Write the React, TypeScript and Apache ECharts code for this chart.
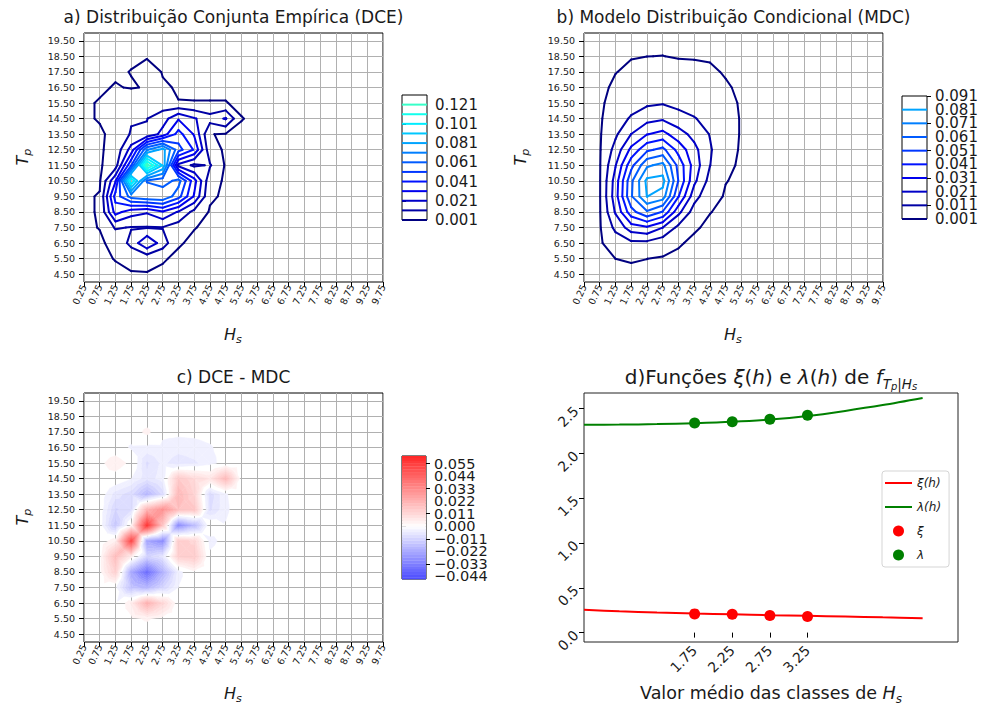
import React, { useEffect, useRef } from "react";
import * as echarts from "echarts";

// ---------------- DATA ----------------
const HS = [0.25, 0.75, 1.25, 1.75, 2.25, 2.75, 3.25, 3.75, 4.25, 4.75, 5.25, 5.75, 6.25, 6.75, 7.25, 7.75, 8.25, 8.75, 9.25, 9.75];
const TP = [4.5, 5.5, 6.5, 7.5, 8.5, 9.5, 10.5, 11.5, 12.5, 13.5, 14.5, 15.5, 16.5, 17.5, 18.5, 19.5];

// Empirical joint distribution (rows: Tp 4.5..19.5, cols: Hs 0.25..5.75; beyond = 0)
const DCE: number[][] = [
  [0, 0, 0, 0.0005, 0.0005, 0, 0, 0, 0, 0, 0, 0],
  [0, 0, 0.0012, 0.003, 0.004, 0.0015, 0, 0, 0, 0, 0, 0],
  [0, 0, 0.003, 0.014, 0.03, 0.016, 0.0015, 0, 0, 0, 0, 0],
  [0, 0.0012, 0.012, 0.0105, 0.0105, 0.0105, 0.006, 0.0012, 0, 0, 0, 0],
  [0, 0.0015, 0.035, 0.025, 0.022, 0.03, 0.02, 0.008, 0.0003, 0, 0, 0],
  [0, 0.0015, 0.045, 0.065, 0.07, 0.07, 0.055, 0.03, 0.002, 0, 0, 0],
  [0, 0, 0.03, 0.11, 0.06, 0.055, 0.065, 0.035, 0.004, 0, 0, 0],
  [0, 0, 0.006, 0.05, 0.125, 0.09, 0.018, 0.009, 0.012, 0, 0, 0],
  [0, 0, 0.004, 0.025, 0.07, 0.085, 0.055, 0.04, 0.004, 0, 0, 0],
  [0, 0, 0.003, 0.012, 0.012, 0.025, 0.045, 0.03, 0.0012, 0.0005, 0, 0],
  [0, 0.0015, 0.006, 0.01, 0.0108, 0.016, 0.03, 0.022, 0.015, 0.022, 0.0012, 0],
  [0, 0.0015, 0.008, 0.008, 0.0012, 0.006, 0.0012, 0.0012, 0.0012, 0.0012, 0, 0],
  [0, 0, 0.0015, 0.0005, 0.0015, 0.002, 0.0003, 0, 0, 0, 0, 0],
  [0, 0, 0, 0.0012, 0.006, 0.0005, 0, 0, 0, 0, 0, 0],
  [0, 0, 0, 0, 0, 0, 0, 0, 0, 0, 0, 0],
  [0, 0, 0, 0, 0, 0, 0, 0, 0, 0, 0, 0],
];

// Conditional model distribution (same layout)
const MDC: number[][] = [
  [0, 0, 0.00007, 0.00006, 0.00003, 0.00001, 0, 0, 0, 0, 0, 0],
  [0, 0.00002, 0.00101, 0.00136, 0.00103, 0.00042, 0.00009, 0.00001, 0, 0, 0, 0],
  [0, 0.00006, 0.00518, 0.00869, 0.00834, 0.00476, 0.00147, 0.00016, 0.00001, 0, 0, 0],
  [0, 0.00013, 0.01342, 0.02613, 0.0295, 0.0211, 0.0084, 0.00153, 0.00017, 0.00001, 0, 0],
  [0, 0.0002, 0.0221, 0.0472, 0.0597, 0.0502, 0.0239, 0.00637, 0.00113, 0.00008, 0.00001, 0],
  [0, 0.00025, 0.0265, 0.0599, 0.0812, 0.0764, 0.0416, 0.015, 0.00363, 0.0004, 0.00003, 0],
  [0, 0.00026, 0.0253, 0.0588, 0.0833, 0.0846, 0.0507, 0.0234, 0.00763, 0.00118, 0.00008, 0.00001],
  [0, 0.00024, 0.0204, 0.0477, 0.0692, 0.074, 0.0478, 0.0267, 0.01124, 0.00225, 0.00022, 0.00002],
  [0, 0.0002, 0.01445, 0.0335, 0.0489, 0.0539, 0.03755, 0.024, 0.01217, 0.0031, 0.00044, 0.00005],
  [0, 0.00015, 0.00931, 0.0211, 0.0306, 0.0342, 0.0252, 0.0179, 0.01055, 0.00328, 0.00063, 0.0001],
  [0, 0.0001, 0.00558, 0.01228, 0.0175, 0.0196, 0.015, 0.0116, 0.00771, 0.00283, 0.0007, 0.00013],
  [0, 0.00007, 0.00315, 0.00666, 0.00925, 0.01023, 0.00805, 0.00667, 0.00489, 0.00206, 0.00064, 0.00014],
  [0, 0.00004, 0.00171, 0.00346, 0.00465, 0.00506, 0.00403, 0.00353, 0.00279, 0.00132, 0.0005, 0.00012],
  [0, 0.00002, 0.00089, 0.00171, 0.00223, 0.00236, 0.00189, 0.00172, 0.00145, 0.00076, 0.00034, 0.00009],
  [0, 0.00001, 0.00045, 0.00082, 0.00098, 0.00103, 0.00084, 0.00079, 0.0007, 0.00039, 0.00018, 0.00006],
  [0, 0, 0.00023, 0.00039, 0.00046, 0.00046, 0.00036, 0.00035, 0.00032, 0.00019, 0.00009, 0.00003],
];

const LEVELS_A = [0.001, 0.011, 0.021, 0.031, 0.041, 0.051, 0.061, 0.071, 0.081, 0.091, 0.101, 0.111, 0.121];
const LEVELS_B = [0.001, 0.011, 0.021, 0.031, 0.041, 0.051, 0.061, 0.071, 0.081];
const CB_A_TICKS = [0.001, 0.021, 0.041, 0.061, 0.081, 0.101, 0.121];
const CB_B_TICKS = [0.001, 0.011, 0.021, 0.031, 0.041, 0.051, 0.061, 0.071, 0.081, 0.091];
const CB_C_TICKS = [-0.044, -0.033, -0.022, -0.011, 0, 0.011, 0.022, 0.033, 0.044, 0.055];

// Panel d
const HS_FIT = [0.28, 0.75, 1.25, 1.75, 2.25, 2.75, 3.25, 3.75, 4.25, 4.78];
const XI_FIT = [0.254, 0.238, 0.224, 0.213, 0.204, 0.195, 0.187, 0.179, 0.17, 0.161];
const LAMBDA_FIT = [2.32, 2.322, 2.328, 2.338, 2.353, 2.378, 2.418, 2.475, 2.54, 2.619];
const HS_CLASS = [1.75, 2.25, 2.75, 3.25];
const XI_PTS = [0.209, 0.206, 0.191, 0.18];
const LAMBDA_PTS = [2.34, 2.354, 2.381, 2.426];
const D_XTICKS = [1.75, 2.25, 2.75, 3.25];
const D_YTICKS = [0, 0.5, 1.0, 1.5, 2.0, 2.5];

// ---------------- helpers ----------------
const FONT = "DejaVu Sans, Liberation Sans, sans-serif";
const TXT = "#1a1a1a";

function getVal(tab: number[][], i: number, j: number): number {
  const row = tab[j];
  if (!row || i >= row.length) return 0;
  return row[i];
}

function jetColor(t: number): string {
  const c = (x: number) => Math.max(0, Math.min(1, x));
  const r = c(1.5 - Math.abs(4 * t - 3));
  const g = c(1.5 - Math.abs(4 * t - 2));
  const b = c(1.5 - Math.abs(4 * t - 1));
  return `rgb(${Math.round(r * 255)},${Math.round(g * 255)},${Math.round(b * 255)})`;
}
const levelColor = (L: number) => jetColor((L - 0.001) / 0.28);

function mix(a: number[], b: number[], s: number): string {
  return `rgb(${Math.round(a[0] + (b[0] - a[0]) * s)},${Math.round(a[1] + (b[1] - a[1]) * s)},${Math.round(a[2] + (b[2] - a[2]) * s)})`;
}
const C_MIN = -0.0463;
const C_MAX = 0.0616;
function diffColor(m: number): string {
  if (m >= 0) return mix([255, 255, 255], [255, 38, 38], Math.min(1, m / C_MAX));
  return mix([255, 255, 255], [75, 75, 255], Math.min(1, m / C_MIN));
}

type Seg = number[];
function contourSegments(tab: number[][], levels: number[]): Seg[] {
  const segs: Seg[] = [];
  for (let li = 0; li < levels.length; li++) {
    const L = levels[li];
    for (let j = 0; j < TP.length - 1; j++) {
      for (let i = 0; i < HS.length - 1; i++) {
        const va = getVal(tab, i, j), vb = getVal(tab, i + 1, j), vc = getVal(tab, i + 1, j + 1), vd = getVal(tab, i, j + 1);
        const xa = HS[i], xb = HS[i + 1], ya = TP[j], yd = TP[j + 1];
        const cross = (v1: number, v2: number) => (v1 >= L) !== (v2 >= L);
        const it = (v1: number, v2: number) => (L - v1) / (v2 - v1);
        const pts: (number[] | null)[] = [null, null, null, null];
        if (cross(va, vb)) pts[0] = [xa + (xb - xa) * it(va, vb), ya];
        if (cross(vb, vc)) pts[1] = [xb, ya + (yd - ya) * it(vb, vc)];
        if (cross(vc, vd)) pts[2] = [xb + (xa - xb) * it(vc, vd), yd];
        if (cross(vd, va)) pts[3] = [xa, yd + (ya - yd) * it(vd, va)];
        const idx = [0, 1, 2, 3].filter((k) => pts[k]);
        const push = (p: number, q: number) => {
          const P = pts[p] as number[], Q = pts[q] as number[];
          segs.push([P[0], P[1], Q[0], Q[1], li]);
        };
        if (idx.length === 2) push(idx[0], idx[1]);
        else if (idx.length === 4) {
          const ctr = (va + vb + vc + vd) / 4;
          if ((ctr >= L) === (va >= L)) { push(0, 1); push(2, 3); }
          else { push(3, 0); push(1, 2); }
        }
      }
    }
  }
  return segs;
}

type PV = { x: number; y: number; v: number };
function clipPoly(poly: PV[], lim: number, keepAbove: boolean): PV[] {
  const out: PV[] = [];
  const n = poly.length;
  for (let k = 0; k < n; k++) {
    const p = poly[k], q = poly[(k + 1) % n];
    const pin = keepAbove ? p.v >= lim : p.v <= lim;
    const qin = keepAbove ? q.v >= lim : q.v <= lim;
    if (pin) out.push(p);
    if (pin !== qin) {
      const t = (lim - p.v) / (q.v - p.v);
      out.push({ x: p.x + (q.x - p.x) * t, y: p.y + (q.y - p.y) * t, v: lim });
    }
  }
  return out;
}

const BAND_EDGES: number[] = [];
for (let k = -20; k <= 26; k++) BAND_EDGES.push(k * 0.0025);

type Poly = { pts: number[][]; color: string };
function diffAt(i: number, j: number) {
  return getVal(DCE, i, j) - getVal(MDC, i, j);
}
function bandPolys(): Poly[] {
  const polys: Poly[] = [];
  for (let j = 0; j < TP.length - 1; j++) {
    for (let i = 0; i < HS.length - 1; i++) {
      const A = { x: HS[i], y: TP[j], v: diffAt(i, j) };
      const B = { x: HS[i + 1], y: TP[j], v: diffAt(i + 1, j) };
      const C = { x: HS[i + 1], y: TP[j + 1], v: diffAt(i + 1, j + 1) };
      const D = { x: HS[i], y: TP[j + 1], v: diffAt(i, j + 1) };
      const M = { x: (A.x + B.x) / 2, y: (A.y + D.y) / 2, v: (A.v + B.v + C.v + D.v) / 4 };
      const tris = [[A, B, M], [B, C, M], [C, D, M], [D, A, M]];
      for (const tri of tris) {
        const vs = tri.map((p) => p.v);
        const vmin = Math.min(...vs), vmax = Math.max(...vs);
        if (Math.abs(vmin) < 1e-4 && Math.abs(vmax) < 1e-4) continue;
        for (let b = 0; b < BAND_EDGES.length - 1; b++) {
          const lo = BAND_EDGES[b], hi = BAND_EDGES[b + 1];
          if (hi < vmin || lo > vmax) continue;
          const mid = (lo + hi) / 2;
          if (Math.abs(mid) < 0.0013) continue;
          let poly: PV[] = tri;
          if (vmin < lo) poly = clipPoly(poly, lo, true);
          if (poly.length >= 3 && vmax > hi) poly = clipPoly(poly, hi, false);
          if (poly.length < 3) continue;
          polys.push({ pts: poly.map((p) => [p.x, p.y]), color: diffColor(mid) });
        }
      }
    }
  }
  return polys;
}

const SEGS_A = contourSegments(DCE, LEVELS_A);
const SEGS_B = contourSegments(MDC, LEVELS_B);
const POLYS_C = bandPolys();
const CB_C_BANDS = BAND_EDGES.slice(0, -1)
  .map((lo, k) => [Math.max(lo, C_MIN), Math.min(BAND_EDGES[k + 1], C_MAX), k])
  .filter((b) => b[1] > b[0]);

// ---------------- axes builders ----------------
const fmt2 = (v: number) => v.toFixed(2);
const fmt3 = (v: number) => (v < 0 ? "\u2212" + (-v).toFixed(3) : v.toFixed(3));
const labelCommon = { showMinLabel: true, showMaxLabel: true, hideOverlap: false, fontFamily: FONT, color: TXT };
function mapXAxis(gi: number) {
  return {
    gridIndex: gi, type: "value", min: 0.25, max: 9.75,
    axisLine: { show: false },
    axisTick: { show: true, length: 5, customValues: HS, lineStyle: { color: "#000", width: 1 } },
    axisLabel: { ...labelCommon, customValues: HS, formatter: fmt2, rotate: 65, fontSize: 9.5, lineHeight: 10, margin: 3 },
    splitLine: { show: true, lineStyle: { color: "#b0b0b0", width: 1 } },
  };
}
function mapYAxis(gi: number) {
  return {
    gridIndex: gi, type: "value", min: 4, max: 20,
    axisLine: { show: false },
    axisTick: { show: true, length: 5, customValues: TP, lineStyle: { color: "#000", width: 1 } },
    axisLabel: { ...labelCommon, customValues: TP, formatter: fmt2, fontSize: 9.5, lineHeight: 10, margin: 9 },
    splitLine: { show: true, lineStyle: { color: "#b0b0b0", width: 1 } },
  };
}
function cbXAxis(gi: number) {
  return { gridIndex: gi, type: "value", min: 0, max: 1, show: false };
}
function cbYAxis(gi: number, min: number, max: number, ticks: number[], size: number) {
  return {
    gridIndex: gi, type: "value", min, max, position: "right", offset: 0,
    axisLine: { show: false },
    axisTick: { show: true, length: 4, customValues: ticks, lineStyle: { color: "#000" } },
    axisLabel: { ...labelCommon, customValues: ticks, formatter: fmt3, fontSize: size, margin: 8 },
    splitLine: { show: false },
  };
}
const everyOther = (arr: number[], start: number) => arr.filter((_v, k) => k % 2 === start);

function contourSeries(segs: Seg[], levels: number[], axisIdx: number) {
  const colors = levels.map(levelColor);
  return {
    type: "custom", xAxisIndex: axisIdx, yAxisIndex: axisIdx, clip: true, silent: true,
    encode: { x: [0, 2], y: [1, 3] },
    data: segs,
    z: 3,
    renderItem: (_p: any, api: any) => {
      const p1 = api.coord([api.value(0), api.value(1)]);
      const p2 = api.coord([api.value(2), api.value(3)]);
      return {
        type: "line",
        shape: { x1: p1[0], y1: p1[1], x2: p2[0], y2: p2[1] },
        style: { stroke: colors[api.value(4)], lineWidth: 2, lineCap: "round" },
      };
    },
  };
}
function cbLineSeries(levels: number[], xIdx: number, yIdx: number) {
  return {
    type: "custom", xAxisIndex: xIdx, yAxisIndex: yIdx, silent: true,
    data: levels.map((l, k) => [0, l, k]),
    encode: { x: 0, y: 1 },
    z: 3,
    renderItem: (_p: any, api: any) => {
      const a = api.coord([0, api.value(1)]);
      const b = api.coord([1, api.value(1)]);
      return {
        type: "line",
        shape: { x1: a[0], y1: a[1], x2: b[0], y2: b[1] },
        style: { stroke: levelColor(api.value(1)), lineWidth: 2 },
      };
    },
  };
}

// ---------------- text helpers ----------------
function plainText(x: number, y: number, text: string, size: number) {
  return {
    type: "text", x, y, silent: true,
    style: { text, x: 0, y: 0, fill: TXT, fontSize: size, fontFamily: FONT, align: "center", verticalAlign: "middle", textAlign: "center", textVerticalAlign: "middle" },
  };
}
function subText(x: number, y: number, main: string, sub: string, size: number, rotated = false) {
  return {
    type: "text", x, y, silent: true, rotation: rotated ? Math.PI / 2 : 0,
    style: {
      text: `{i|${main}}{s|${sub}}`, x: 0, y: 0,
      align: "center", verticalAlign: "middle", textAlign: "center", textVerticalAlign: "middle",
      rich: {
        i: { fontSize: size, fontStyle: "italic", fontFamily: FONT, fill: TXT, lineHeight: size + 6 },
        s: { fontSize: size * 0.7, fontStyle: "italic", fontFamily: FONT, fill: TXT, lineHeight: size * 0.7, verticalAlign: "bottom" },
      },
    },
  };
}

export default function App() {
  const ref = useRef<HTMLDivElement>(null);
  useEffect(() => {
    if (!ref.current) return;
    const chart = echarts.init(ref.current, null, { renderer: "svg" });
    const gridBase = { show: true, borderColor: "#000", borderWidth: 1, backgroundColor: "transparent", containLabel: false };
    const option: any = {
      animation: false,
      backgroundColor: "#fff",
      grid: [
        { ...gridBase, left: 84, top: 33, width: 299, height: 249 },
        { ...gridBase, left: 584, top: 33, width: 299, height: 249 },
        { ...gridBase, left: 84, top: 393, width: 299, height: 249 },
        { ...gridBase, left: 584, top: 393, width: 374, height: 249, borderColor: "#222" },
        { ...gridBase, left: 402, top: 95, width: 25, height: 125 },
        { ...gridBase, left: 902, top: 96, width: 25, height: 123 },
        { ...gridBase, left: 402, top: 456, width: 24, height: 123 },
      ],
      xAxis: [
        mapXAxis(0), mapXAxis(1), mapXAxis(2),
        {
          gridIndex: 3, type: "value", min: 0.28, max: 5.25,
          axisLine: { show: false },
          axisTick: { show: true, length: 5, customValues: D_XTICKS, lineStyle: { color: "#000" } },
          axisLabel: { ...labelCommon, customValues: D_XTICKS, formatter: fmt2, rotate: 45, fontSize: 14, margin: 6 },
          splitLine: { show: false },
        },
        cbXAxis(4), cbXAxis(5), cbXAxis(6),
      ],
      yAxis: [
        mapYAxis(0), mapYAxis(1), mapYAxis(2),
        {
          gridIndex: 3, type: "value", min: -0.105, max: 2.675,
          axisLine: { show: false },
          axisTick: { show: true, length: 5, customValues: D_YTICKS, lineStyle: { color: "#000" } },
          axisLabel: { ...labelCommon, customValues: D_YTICKS, formatter: (v: number) => v.toFixed(1), rotate: 45, fontSize: 14, margin: 8 },
          splitLine: { show: false },
        },
        cbYAxis(4, 0.001, 0.131, CB_A_TICKS, 15),
        cbYAxis(5, 0.001, 0.091, everyOther(CB_B_TICKS, 0), 15),
        cbYAxis(5, 0.001, 0.091, everyOther(CB_B_TICKS, 1), 15),
        cbYAxis(6, C_MIN, C_MAX, everyOther(CB_C_TICKS, 0), 14.5),
        cbYAxis(6, C_MIN, C_MAX, everyOther(CB_C_TICKS, 1), 14.5),
      ],
      legend: {
        orient: "vertical", left: 882, top: 471,
        itemWidth: 27, itemHeight: 11, itemGap: 12,
        padding: [6, 8, 6, 3],
        backgroundColor: "rgba(255,255,255,0.85)", borderColor: "#d5d5d5", borderWidth: 1, borderRadius: 3,
        textStyle: { fontSize: 12, fontStyle: "italic", fontFamily: FONT, color: TXT },
        data: [
          { name: "ξ(h)", icon: "path://M0,0H40V3H0Z" },
          { name: "λ(h)", icon: "path://M0,0H40V3H0Z" },
          { name: "ξ", icon: "circle" },
          { name: "λ", icon: "circle" },
        ],
      },
      series: [
        contourSeries(SEGS_A, LEVELS_A, 0),
        contourSeries(SEGS_B, LEVELS_B, 1),
        {
          type: "custom", xAxisIndex: 2, yAxisIndex: 2, clip: true, silent: true,
          data: POLYS_C.map((p, k) => [p.pts[0][0], p.pts[0][1], k]),
          encode: { x: 0, y: 1 },
          z: 1,
          renderItem: (_p: any, api: any) => {
            const poly = POLYS_C[api.value(2)];
            return {
              type: "polygon",
              shape: { points: poly.pts.map((pt) => api.coord(pt)) },
              style: { fill: poly.color, stroke: poly.color, lineWidth: 0.5 },
            };
          },
        },
        {
          name: "ξ(h)", type: "line", xAxisIndex: 3, yAxisIndex: 3,
          data: HS_FIT.map((h, k) => [h, XI_FIT[k]]), smooth: 0.3, showSymbol: false,
          color: "#ff0000", lineStyle: { width: 2, color: "#ff0000" }, z: 2,
        },
        {
          name: "λ(h)", type: "line", xAxisIndex: 3, yAxisIndex: 3,
          data: HS_FIT.map((h, k) => [h, LAMBDA_FIT[k]]), smooth: 0.3, showSymbol: false,
          color: "#008000", lineStyle: { width: 2, color: "#008000" }, z: 2,
        },
        {
          name: "ξ", type: "scatter", xAxisIndex: 3, yAxisIndex: 3,
          data: HS_CLASS.map((h, k) => [h, XI_PTS[k]]), symbolSize: 11,
          itemStyle: { color: "#ff0000", opacity: 1 }, z: 3,
        },
        {
          name: "λ", type: "scatter", xAxisIndex: 3, yAxisIndex: 3,
          data: HS_CLASS.map((h, k) => [h, LAMBDA_PTS[k]]), symbolSize: 11,
          itemStyle: { color: "#008000", opacity: 1 }, z: 3,
        },
        cbLineSeries(LEVELS_A, 4, 4),
        cbLineSeries(LEVELS_B, 5, 5),
        {
          type: "custom", xAxisIndex: 6, yAxisIndex: 7, silent: true,
          data: CB_C_BANDS,
          encode: { y: [0, 1] },
          z: 1,
          renderItem: (_p: any, api: any) => {
            const lo = api.value(0), hi = api.value(1);
            const a = api.coord([0, lo]);
            const b = api.coord([1, hi]);
            const col = diffColor((lo + hi) / 2);
            return {
              type: "rect",
              shape: { x: a[0], y: b[1], width: b[0] - a[0], height: a[1] - b[1] + 0.3 },
              style: { fill: col, stroke: null },
            };
          },
        },
      ],
      graphic: {
        elements: [
          plainText(233.5, 17, "a) Distribuição Conjunta Empírica (DCE)", 17),
          plainText(733.5, 17, "b) Modelo Distribuição Condicional (MDC)", 17),
          plainText(233.5, 377, "c) DCE - MDC", 17),
          {
            type: "text", x: 771, y: 377, silent: true,
            style: {
              text: "{n|d)Funções }{i|ξ}{n|(}{i|h}{n|) e }{i|λ}{n|(}{i|h}{n|) de }{i|f}{s|T}{ss|p}{sn||}{s|H}{ss|s}",
              x: 0, y: 0, align: "center", verticalAlign: "middle", textAlign: "center", textVerticalAlign: "middle",
              rich: {
                n: { fontSize: 20, fontFamily: FONT, fill: TXT, lineHeight: 28 },
                i: { fontSize: 20, fontStyle: "italic", fontFamily: FONT, fill: TXT, lineHeight: 28 },
                s: { fontSize: 13.5, fontStyle: "italic", fontFamily: FONT, fill: TXT, lineHeight: 13, verticalAlign: "bottom" },
                sn: { fontSize: 13.5, fontFamily: FONT, fill: TXT, lineHeight: 13, verticalAlign: "bottom" },
                ss: { fontSize: 10, fontStyle: "italic", fontFamily: FONT, fill: TXT, lineHeight: 6, verticalAlign: "bottom" },
              },
            },
          },
          subText(22, 157, "T", "p", 16, true),
          subText(520, 157, "T", "p", 16, true),
          subText(22, 517, "T", "p", 16, true),
          subText(233, 334, "H", "s", 16),
          subText(733, 334, "H", "s", 16),
          subText(233, 693, "H", "s", 16),
          {
            type: "text", x: 771, y: 693, silent: true,
            style: {
              text: "{n|Valor médio das classes de }{i|H}{s|s}",
              x: 0, y: 0, align: "center", verticalAlign: "middle", textAlign: "center", textVerticalAlign: "middle",
              rich: {
                n: { fontSize: 17.5, fontFamily: FONT, fill: TXT, lineHeight: 24 },
                i: { fontSize: 17.5, fontStyle: "italic", fontFamily: FONT, fill: TXT, lineHeight: 24 },
                s: { fontSize: 12, fontStyle: "italic", fontFamily: FONT, fill: TXT, lineHeight: 12, verticalAlign: "bottom" },
              },
            },
          },
        ],
      },
    };
    chart.setOption(option);
    return () => chart.dispose();
  }, []);
  return (
    <div
      ref={ref}
      style={{ position: "fixed", left: 0, top: 0, width: 992, height: 718, background: "#fff" }}
    />
  );
}
